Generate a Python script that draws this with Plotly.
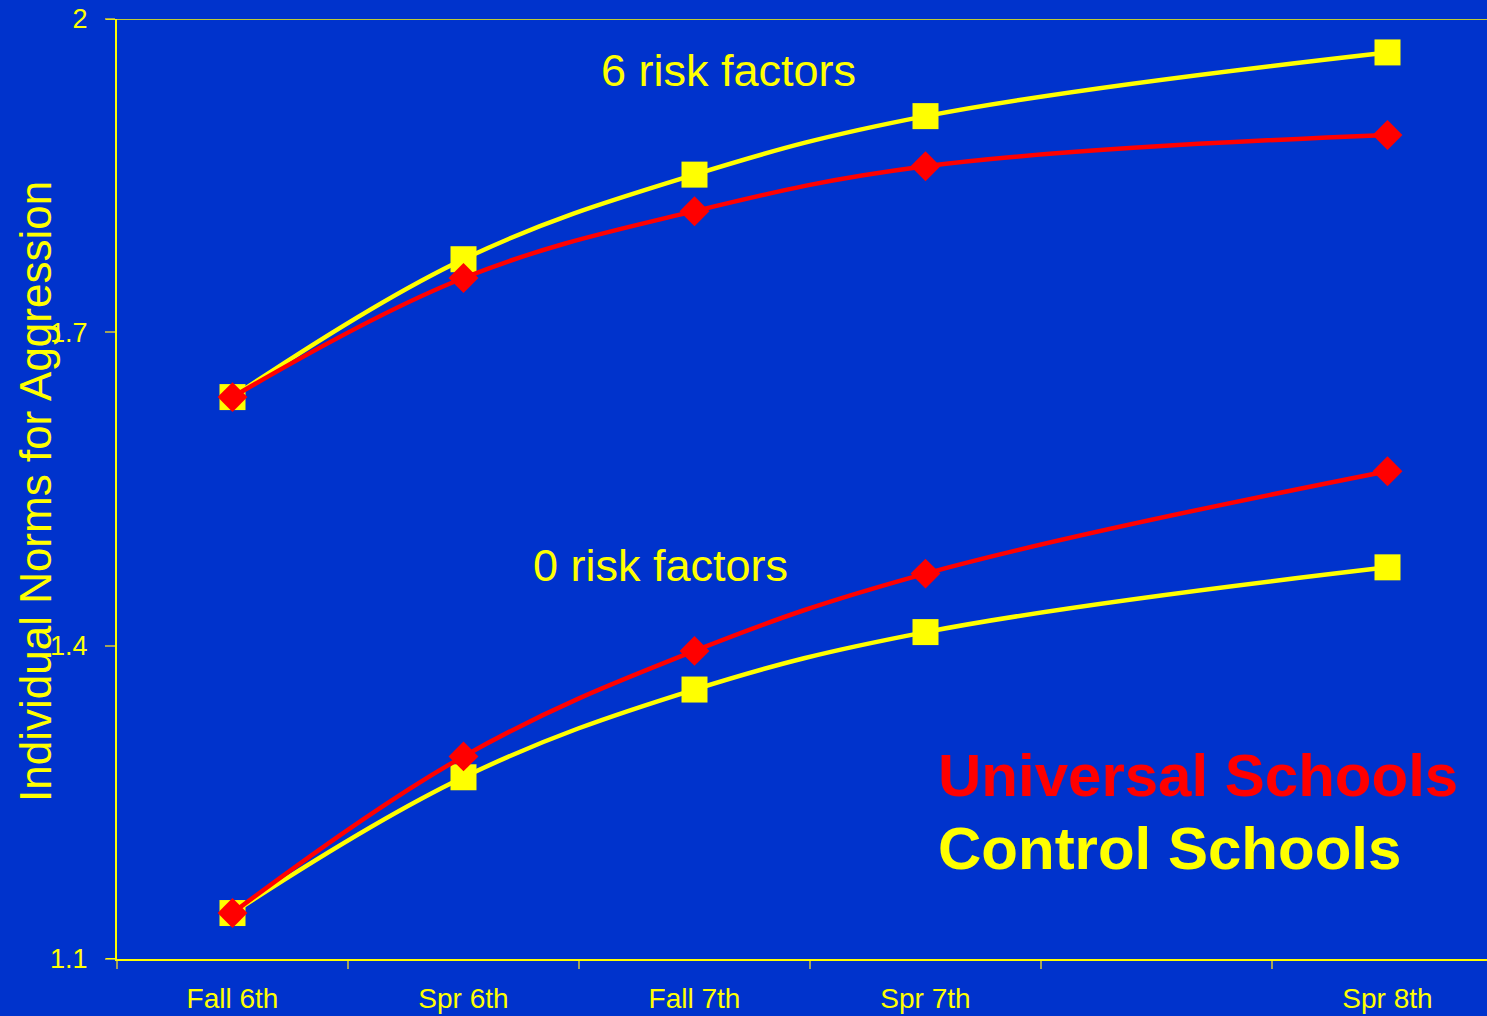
import plotly.graph_objects as go

# Survey waves; the Fall 8th slot has no measurement and an empty label
waves = ["Fall 6th", "Spr 6th", "Fall 7th", "Spr 7th", "Fall 8th", "Spr 8th"]
wave_labels = ["Fall 6th", "Spr 6th", "Fall 7th", "Spr 7th", "", "Spr 8th"]
measured_waves = ["Fall 6th", "Spr 6th", "Fall 7th", "Spr 7th", "Spr 8th"]

# Individual norms for aggression by risk level and condition
control_6_risk = [1.638, 1.770, 1.851, 1.907, 1.968]
universal_6_risk = [1.638, 1.752, 1.816, 1.859, 1.889]
control_0_risk = [1.144, 1.274, 1.358, 1.413, 1.475]
universal_0_risk = [1.144, 1.294, 1.395, 1.469, 1.567]

y_ticks = [1.1, 1.4, 1.7, 2.0]
y_tick_labels = ["1.1", "1.4", "1.7", "2"]

BG = "#0033CC"
YELLOW = "#FFFF00"
RED = "#FF0000"
TICK = "#A3A35A"
FONT = "Arial, Liberation Sans, sans-serif"

fig = go.Figure()


def add_control(values):
    fig.add_trace(go.Scatter(
        x=measured_waves, y=values, mode="lines+markers",
        line=dict(color=YELLOW, width=4.5, shape="spline", smoothing=1.1),
        marker=dict(symbol="square", size=26, color=YELLOW),
        showlegend=False, hoverinfo="x+y",
    ))


def add_universal(values):
    fig.add_trace(go.Scatter(
        x=measured_waves, y=values, mode="lines+markers",
        line=dict(color=RED, width=4.5, shape="spline", smoothing=1.1),
        marker=dict(symbol="diamond", size=23, color=RED),
        showlegend=False, hoverinfo="x+y",
    ))


add_control(control_6_risk)
add_control(control_0_risk)
add_universal(universal_6_risk)
add_universal(universal_0_risk)

W, H = 1487, 1016
L, T, R, B = 117, 19, 0, 57
plot_w = W - L - R
plot_h = H - T - B
slot = 231.0


def px_x(px):
    return (px - L) / plot_w


def px_y(py):
    return (H - B - py) / plot_h


fig.update_layout(
    width=W, height=H,
    margin=dict(l=L, r=R, t=T, b=B),
    paper_bgcolor=BG, plot_bgcolor=BG,
    font=dict(family=FONT, color=YELLOW, size=28),
    xaxis=dict(
        type="category", categoryorder="array", categoryarray=waves,
        tickmode="array", tickvals=waves, ticktext=wave_labels,
        range=[-0.5, -0.5 + plot_w / slot], automargin=False,
        tickson="boundaries", ticks="outside", ticklen=8, tickwidth=2,
        tickcolor=TICK, showgrid=False, zeroline=False,
        showline=True, linecolor=YELLOW, linewidth=2,
        ticklabelstandoff=13,
        tickfont=dict(size=28, color=YELLOW, family=FONT),
    ),
    yaxis=dict(
        range=[1.1, 2.0], tickmode="array", tickvals=y_ticks,
        ticktext=y_tick_labels, ticks="outside", ticklen=10, tickwidth=2,
        tickcolor=TICK, showgrid=False, zeroline=False, automargin=False,
        showline=True, linecolor=YELLOW, linewidth=2,
        ticklabelstandoff=12,
        tickfont=dict(size=27, color=YELLOW, family=FONT),
    ),
    shapes=[
        # top border line at the axis maximum
        dict(type="line", xref="paper", yref="y", x0=px_x(106), x1=1.0,
             y0=2.0, y1=2.0, line=dict(color=YELLOW, width=1.5)),
        # baseline stub extending left of the value axis
        dict(type="line", xref="paper", yref="y", x0=px_x(106), x1=0,
             y0=1.1, y1=1.1, line=dict(color=YELLOW, width=2)),
    ],
    annotations=[
        dict(text="Individual Norms for Aggression", textangle=-90,
             xref="paper", yref="paper", x=px_x(35), y=px_y(492),
             xanchor="center", yanchor="middle", showarrow=False,
             font=dict(size=44, color=YELLOW, family=FONT)),
        dict(text="6 risk factors", xref="paper", yref="paper",
             x=px_x(728), y=px_y(70), xanchor="center", yanchor="middle",
             showarrow=False, font=dict(size=45, color=YELLOW, family=FONT)),
        dict(text="0 risk factors", xref="paper", yref="paper",
             x=px_x(660), y=px_y(565), xanchor="center", yanchor="middle",
             showarrow=False, font=dict(size=45, color=YELLOW, family=FONT)),
        dict(text="<b>Universal Schools</b>", xref="paper", yref="paper",
             x=px_x(936), y=px_y(775), xanchor="left", yanchor="middle",
             showarrow=False, font=dict(size=60, color=RED, family=FONT)),
        dict(text="<b>Control Schools</b>", xref="paper", yref="paper",
             x=px_x(936), y=px_y(848), xanchor="left", yanchor="middle",
             showarrow=False, font=dict(size=60, color=YELLOW, family=FONT)),
    ],
)

fig.write_html("out.html")
